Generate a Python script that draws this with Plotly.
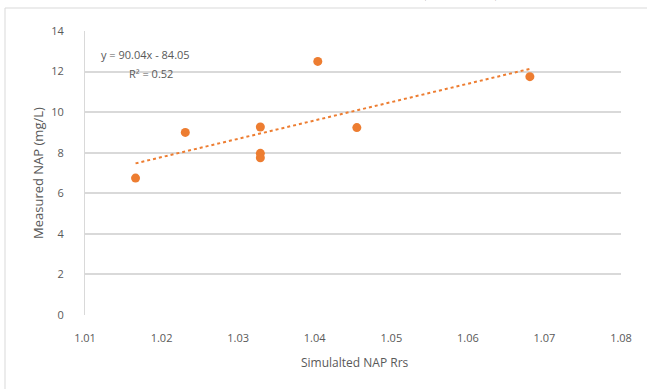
import numpy as np
import plotly.graph_objects as go

# Data
sim_rrs = [1.0166, 1.0231, 1.0329, 1.0329, 1.0329, 1.0404, 1.0455, 1.0681]
measured_nap = [6.75, 9.0, 9.27, 7.97, 7.75, 12.5, 9.24, 11.75]
x_ticks = [1.01, 1.02, 1.03, 1.04, 1.05, 1.06, 1.07, 1.08]
y_ticks = [0, 2, 4, 6, 8, 10, 12, 14]
equation_text = "y = 90.04x - 84.05"
r2_text = "R² = 0.52"
x_title = "Simulalted NAP Rrs"
y_title = "Measured NAP (mg/L)"
cut_caption = "Root Mean Squared Error (RMSE) of the"

ORANGE = "#ED7D31"
GRAY_TXT = "#595959"
GRID = "#D9D9D9"
FONT = "Open Sans"

# Linear trendline fitted from the data
slope, intercept = np.polyfit(sim_rrs, measured_nap, 1)
tx = [min(sim_rrs), max(sim_rrs)]
ty = [slope * v + intercept for v in tx]

fig = go.Figure()
fig.add_trace(go.Scatter(
    x=tx, y=ty, mode="lines",
    line=dict(color=ORANGE, width=2, dash="dot"),
    hoverinfo="skip", showlegend=False,
))
fig.add_trace(go.Scatter(
    x=sim_rrs, y=measured_nap, mode="markers",
    marker=dict(color=ORANGE, size=9),
    showlegend=False,
))

W, H = 647, 389
L, R, T, B = 85, 26, 31, 74
pw, ph = W - L - R, H - T - B

def px_x(p):
    return (p - L) / pw

def px_y(p):
    return (H - B - p) / ph

fig.update_layout(
    width=W, height=H,
    margin=dict(l=L, r=R, t=T, b=B, autoexpand=False),
    paper_bgcolor="white", plot_bgcolor="white",
    font=dict(family=FONT, color=GRAY_TXT, size=11),
    xaxis=dict(
        range=[1.01, 1.08], tickvals=x_ticks,
        ticktext=[f"{v:.2f}" for v in x_ticks],
        showgrid=False, zeroline=False, showline=False,
        ticks="", ticklabelstandoff=15, automargin=False,
        tickfont=dict(size=11, color=GRAY_TXT, family=FONT),
    ),
    yaxis=dict(
        range=[0, 14], tickvals=y_ticks,
        showgrid=True, gridcolor=GRID, gridwidth=1.5,
        zeroline=False, showline=True, linecolor=GRID, linewidth=1,
        ticks="", ticklabelstandoff=18, automargin=False,
        tickfont=dict(size=11, color=GRAY_TXT, family=FONT),
    ),
    shapes=[
        dict(type="rect", xref="paper", yref="paper",
             x0=px_x(5), x1=px_x(700), y0=px_y(450), y1=px_y(8),
             line=dict(color="#D9D9D9", width=1), fillcolor="rgba(0,0,0,0)", layer="below"),
    ],
    annotations=[
        dict(text=equation_text, xref="paper", yref="paper",
             x=px_x(99), y=px_y(54), xanchor="left", yanchor="middle",
             showarrow=False, font=dict(size=11, color=GRAY_TXT, family=FONT)),
        dict(text=r2_text, xref="paper", yref="paper",
             x=px_x(127), y=px_y(73), xanchor="left", yanchor="middle",
             showarrow=False, font=dict(size=11, color=GRAY_TXT, family=FONT)),
        dict(text=x_title, xref="paper", yref="paper",
             x=px_x(355), y=px_y(362), xanchor="center", yanchor="middle",
             showarrow=False, font=dict(size=12, color=GRAY_TXT, family=FONT)),
        dict(text=y_title, xref="paper", yref="paper",
             x=px_x(38), y=px_y(173), xanchor="center", yanchor="middle",
             textangle=-90, showarrow=False,
             font=dict(size=13, color=GRAY_TXT, family=FONT)),
        dict(text=cut_caption, xref="paper", yref="paper",
             x=px_x(360), y=px_y(3), xanchor="center", yanchor="bottom",
             showarrow=False, font=dict(size=25, color="black", family="Liberation Serif")),
    ],
)

fig.write_html(
    "out.html",
    config={"displayModeBar": False},
    post_script="document.body.style.margin='0';document.body.style.overflow='hidden';",
)
